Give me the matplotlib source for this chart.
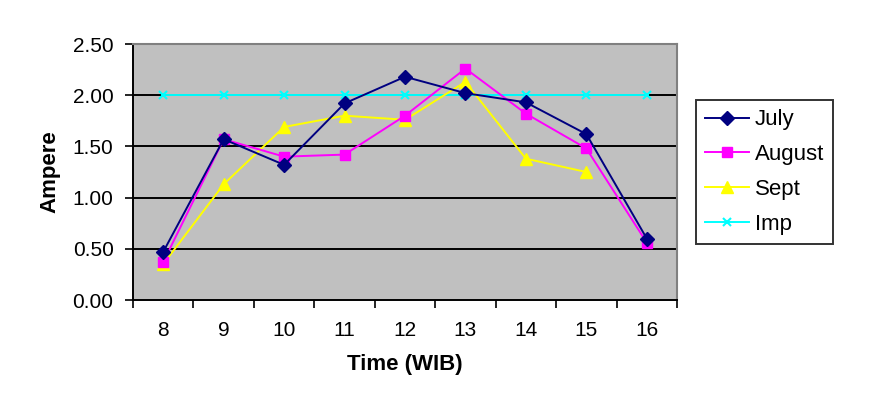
import numpy as np
import matplotlib.pyplot as plt

plt.rcParams['font.family'] = ['Liberation Sans', 'DejaVu Sans']

hours = [8, 9, 10, 11, 12, 13, 14, 15, 16]
july = [0.47, 1.57, 1.32, 1.92, 2.18, 2.02, 1.93, 1.62, 0.60]
august = [0.37, 1.57, 1.40, 1.42, 1.80, 2.26, 1.82, 1.48, 0.56]
sept = [0.35, 1.13, 1.69, 1.80, 1.76, 2.13, 1.38, 1.25]
imp = [2.00, 2.00, 2.00, 2.00, 2.00, 2.00, 2.00, 2.00, 2.00]

fig = plt.figure(figsize=(8.77, 4.0), dpi=100)
ax = fig.add_axes([133/877, 100/400, 544/877, 256/400])
ax.set_facecolor('#C0C0C0')

x = np.array(hours)
ax.plot(x, july, color='#000080', marker='D', ms=7, lw=1.4, label='July', zorder=5)
ax.plot(x, august, color='#FF00FF', marker='s', ms=7.5, lw=1.4, label='August', zorder=4)
ax.plot(x[:len(sept)], sept, color='#FFFF00', marker='^', ms=9, lw=1.4, label='Sept', zorder=3)
ax.plot(x, imp, color='#00FFFF', marker='x', ms=5.5, mew=1.5, lw=1.4, label='Imp', zorder=2)

ax.set_xlim(7.5, 16.5)
ax.set_ylim(0, 2.5)
yt = np.arange(0, 2.51, 0.5)
ax.set_yticks(yt)
ax.set_yticklabels(['%.2f' % v for v in yt])
ax.set_xticks(hours)
ax.set_xticks(np.arange(7.5, 16.6, 1), minor=True)
ax.tick_params(axis='x', which='major', length=0, pad=15, labelsize=15)
ax.tick_params(axis='x', which='minor', length=6, width=1.2, direction='out')
ax.tick_params(axis='y', length=6, width=1.2, direction='out', labelsize=15, pad=8)

for v in [0.5, 1.0, 1.5, 2.0]:
    ax.axhline(v, color='black', lw=1.4, zorder=1)

for s in ['top', 'right']:
    ax.spines[s].set_color('#808080')
    ax.spines[s].set_linewidth(1.5)
for s in ['left', 'bottom']:
    ax.spines[s].set_color('black')
    ax.spines[s].set_linewidth(1.4)

ax.set_xlabel('Time (WIB)', fontsize=16, fontweight='bold', labelpad=10)
ax.set_ylabel('Ampere', fontsize=16, fontweight='bold', labelpad=9)

leg = ax.legend(loc='center left', bbox_to_anchor=(1.035, 0.5), borderaxespad=0,
                frameon=True, fancybox=False, edgecolor='black', fontsize=16,
                handlelength=2.0, borderpad=0.4, labelspacing=0.62, handletextpad=0.25)
leg.get_frame().set_linewidth(1.4)

fig.savefig('out.png', dpi=100)
